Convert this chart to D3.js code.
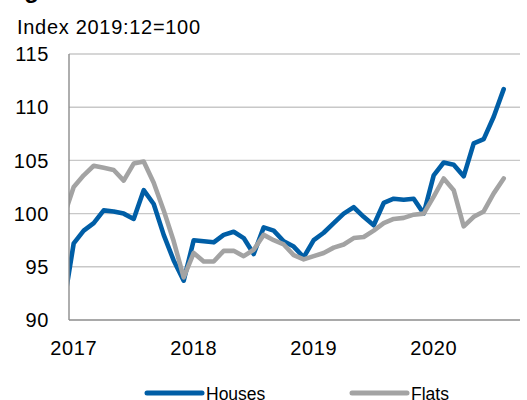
<!DOCTYPE html>
<html>
<head>
<meta charset="utf-8">
<script src="https://cdn.jsdelivr.net/npm/d3@7"></script>
<style>
  html, body { margin: 0; padding: 0; background: #fff; }
  svg { display: block; font-family: "Liberation Sans", Arial, Helvetica, sans-serif; }
</style>
</head>
<body>
<svg id="chart" width="527" height="400"></svg>
<script>
// Monthly observations, Dec 2016 (clipped at the axis) to Aug 2020
const months = ["2016-12",
  "2017-01","2017-02","2017-03","2017-04","2017-05","2017-06","2017-07","2017-08","2017-09","2017-10","2017-11","2017-12",
  "2018-01","2018-02","2018-03","2018-04","2018-05","2018-06","2018-07","2018-08","2018-09","2018-10","2018-11","2018-12",
  "2019-01","2019-02","2019-03","2019-04","2019-05","2019-06","2019-07","2019-08","2019-09","2019-10","2019-11","2019-12",
  "2020-01","2020-02","2020-03","2020-04","2020-05","2020-06","2020-07","2020-08"];
const houses = [91.4,
  97.2, 98.4, 99.1, 100.3, 100.2, 100.0, 99.5, 102.2, 100.9, 98.0, 95.6, 93.7,
  97.5, 97.4, 97.3, 98.0, 98.3, 97.7, 96.2, 98.7, 98.4, 97.4, 96.9, 95.9,
  97.5, 98.2, 99.1, 100.0, 100.6, 99.7, 98.9, 101.0, 101.4, 101.3, 101.4, 100.0,
  103.6, 104.8, 104.6, 103.5, 106.6, 107.0, 109.1, 111.7];
const flats = [99.7,
  102.5, 103.6, 104.5, 104.3, 104.1, 103.1, 104.7, 104.9, 102.9, 100.3, 97.4, 94.0,
  96.3, 95.5, 95.5, 96.5, 96.5, 96.0, 96.6, 98.0, 97.5, 97.1, 96.1, 95.7,
  96.0, 96.3, 96.8, 97.1, 97.7, 97.8, 98.4, 99.1, 99.5, 99.6, 99.9, 100.0,
  101.6, 103.3, 102.2, 98.8, 99.7, 100.2, 101.9, 103.3];
const yTicks = [90, 95, 100, 105, 110, 115];
const xTickLabels = ["2017", "2018", "2019", "2020"];
const seriesNames = ["Houses", "Flats"];
const unitLabel = "Index 2019:12=100";

const svg = d3.select("#chart");
const plot = { left: 69, right: 520, top: 54, bottom: 320 };

// month index relative to Jan 2017
const monthIndex = m => { const [y, mo] = m.split("-").map(Number); return (y - 2017) * 12 + (mo - 1); };
const x = d3.scaleLinear().domain([0, 43]).range([73.7, 503.7]);
const y = d3.scaleLinear().domain([90, 115]).range([plot.bottom, plot.top]);

// cut-off heading at the very top
svg.append("text").attr("x", 3).attr("y", -2)
  .attr("font-size", 24).attr("font-weight", "bold").attr("fill", "#000").text("Figure");

svg.append("text").attr("x", 17).attr("y", 33.5)
  .attr("font-size", 20).attr("letter-spacing", 0.7).attr("fill", "#000").text(unitLabel);

// gridlines
svg.append("g").selectAll("line").data(yTicks.filter(t => t > 90)).join("line")
  .attr("x1", plot.left).attr("x2", plot.right)
  .attr("y1", d => y(d)).attr("y2", d => y(d))
  .attr("stroke", "#c8c8c8").attr("stroke-width", 1.4);

// y labels
svg.append("g").selectAll("text").data(yTicks).join("text")
  .attr("x", 49).attr("y", d => y(d)).attr("dy", "0.36em")
  .attr("text-anchor", "end").attr("font-size", 20).attr("letter-spacing", 0.6).attr("fill", "#000")
  .text(d => d);

// x labels
svg.append("g").selectAll("text").data(xTickLabels).join("text")
  .attr("x", d => x(monthIndex(d + "-01"))).attr("y", 355)
  .attr("text-anchor", "middle").attr("font-size", 20).attr("letter-spacing", 0.6).attr("fill", "#000")
  .text(d => d);

// clip
svg.append("clipPath").attr("id", "clip").append("rect")
  .attr("x", plot.left).attr("y", 0).attr("width", plot.right - plot.left + 10).attr("height", plot.bottom);

const line = d3.line().x((d, i) => x(monthIndex(months[i]))).y(d => y(d));
const colors = ["#005ea6", "#a3a3a3"];
const g = svg.append("g").attr("clip-path", "url(#clip)");
[houses, flats].forEach((s, i) => {
  g.append("path").datum(s).attr("d", line)
    .attr("fill", "none").attr("stroke", colors[i]).attr("stroke-width", 4.6)
    .attr("stroke-linejoin", "round").attr("stroke-linecap", "round");
});

// axes lines
svg.append("line").attr("x1", plot.left).attr("x2", plot.left)
  .attr("y1", plot.top).attr("y2", plot.bottom)
  .attr("stroke", "#8c8c8c").attr("stroke-width", 1.4);
svg.append("line").attr("x1", plot.left).attr("x2", plot.right)
  .attr("y1", plot.bottom).attr("y2", plot.bottom)
  .attr("stroke", "#8c8c8c").attr("stroke-width", 1.4);

// legend
const legendPos = [{ x1: 147, x2: 202, tx: 206 }, { x1: 352, x2: 407, tx: 411 }];
seriesNames.forEach((n, i) => {
  const p = legendPos[i];
  svg.append("line").attr("x1", p.x1).attr("x2", p.x2).attr("y1", 393).attr("y2", 393)
    .attr("stroke", colors[i]).attr("stroke-width", 5).attr("stroke-linecap", "round");
  svg.append("text").attr("x", p.tx).attr("y", 400).attr("font-size", 17.5)
    .attr("fill", "#000").text(n);
});
</script>
</body>
</html>
